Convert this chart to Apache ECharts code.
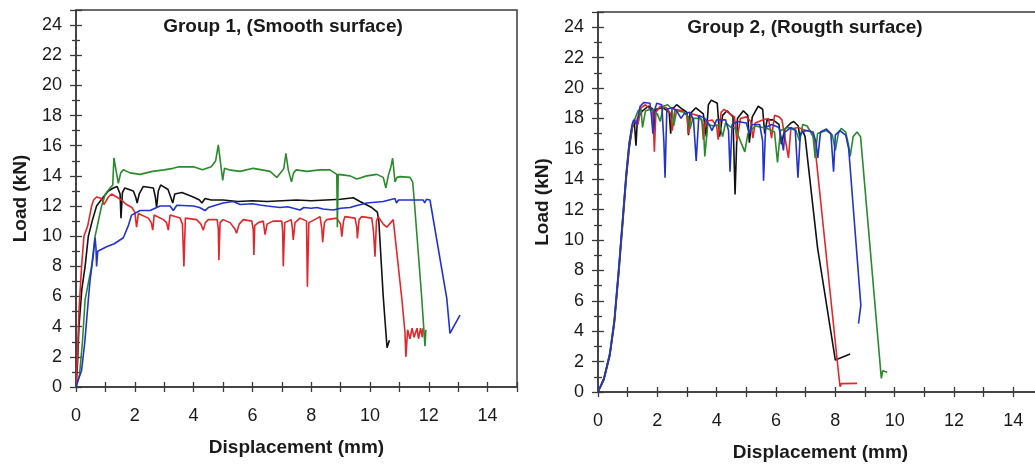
<!DOCTYPE html>
<html>
<head>
<meta charset="utf-8">
<script src="https://cdn.jsdelivr.net/npm/echarts@6/dist/echarts.min.js"></script>
<style>
html,body{margin:0;padding:0;background:#fff;}
#chart{width:1035px;height:465px;}
</style>
</head>
<body>
<div id="chart"></div>
<script>
// ---------- Data (Displacement mm, Load kN) ----------
const titles = ['Group 1, (Smooth surface)', 'Group 2, (Rougth surface)'];
const xName = 'Displacement (mm)';
const yName = 'Load (kN)';
const seriesNames = ['Specimen 1', 'Specimen 2', 'Specimen 3', 'Specimen 4'];
const seriesColors = ['#111111', '#e3262b', '#2b8a2e', '#2233cc'];

// Group 1 (smooth surface)
const g1Black = [[0,0],[0.05,1.5],[0.1,4],[0.2,6.5],[0.31,8],[0.42,10],[0.55,11],[0.7,12],[0.93,12.6],[1.1,13.0],[1.27,13.2],[1.4,13.3],[1.5,12.8],[1.53,11.2],[1.58,12.9],[1.66,13.2],[1.95,13.0],[2.03,12.6],[2.08,12.2],[2.15,12.8],[2.29,13.3],[2.63,13.2],[2.7,12.6],[2.74,11.9],[2.8,13.0],[2.88,13.4],[3.13,13.1],[3.22,12.6],[3.29,12.2],[3.36,12.8],[3.6,12.9],[3.99,12.6],[4.2,12.4],[4.28,12.2],[4.39,12.5],[4.6,12.4],[5.0,12.4],[5.5,12.3],[6.0,12.35],[6.5,12.3],[7.0,12.35],[7.5,12.4],[8.0,12.35],[8.5,12.4],[9.0,12.45],[9.43,12.55],[9.66,12.3],[10.06,11.9],[10.25,11.6],[10.3,11.0],[10.45,6.0],[10.58,2.6],[10.66,3.1]];
const g1Red = [[0,0],[0.05,2],[0.1,5],[0.19,8],[0.27,10],[0.4,10.7],[0.53,12],[0.6,12.4],[0.7,12.6],[0.87,12.5],[0.95,12.1],[0.99,12.0],[1.1,12.6],[1.21,12.8],[1.38,12.6],[1.55,12.4],[1.72,12.1],[1.9,11.9],[2.0,11.6],[2.06,10.6],[2.12,11.5],[2.18,11.5],[2.46,11.2],[2.56,10.9],[2.61,10.4],[2.66,11.4],[2.97,11.1],[3.08,10.9],[3.14,10.4],[3.2,11.4],[3.25,11.5],[3.54,11.2],[3.62,10.8],[3.67,8.0],[3.72,11.2],[4.1,11.1],[4.25,10.8],[4.33,10.4],[4.4,10.9],[4.5,11.1],[4.8,11.1],[4.84,10.5],[4.86,8.4],[4.9,10.9],[5.0,11.1],[5.24,10.9],[5.4,10.5],[5.46,10.2],[5.55,10.8],[5.69,11.1],[5.98,11.0],[6.03,10.4],[6.05,8.75],[6.08,10.7],[6.2,10.9],[6.37,11.0],[6.43,10.1],[6.5,10.8],[6.7,11.0],[7.0,11.0],[7.03,10.3],[7.05,8.0],[7.1,10.9],[7.32,11.1],[7.36,10.5],[7.39,9.75],[7.45,10.9],[7.62,11.2],[7.84,11.0],[7.87,6.65],[7.92,10.9],[8.02,11.0],[8.3,11.3],[8.36,10.5],[8.39,9.6],[8.45,10.9],[8.53,11.1],[8.87,11.2],[9.0,10.8],[9.04,9.97],[9.1,11.0],[9.15,11.3],[9.49,11.2],[9.55,10.6],[9.57,9.86],[9.63,11.1],[9.72,11.3],[10.06,11.2],[10.12,10.3],[10.17,8.64],[10.22,11.0],[10.28,11.3],[10.45,10.8],[10.57,10.6],[10.79,11.1],[11.08,5.9],[11.19,3.6],[11.22,2.0],[11.28,3.8],[11.36,3.2],[11.43,3.9],[11.5,3.3],[11.6,3.9],[11.65,3.2],[11.72,3.9],[11.78,3.3],[11.8,3.9]];
const g1Green = [[0,0],[0.12,0.8],[0.22,3],[0.31,5.8],[0.53,8],[0.65,10],[0.87,12],[1.0,12.8],[1.16,13.2],[1.25,13.4],[1.29,15.2],[1.35,14.5],[1.44,13.5],[1.52,14.2],[1.61,14.4],[1.84,14.2],[2.18,14.1],[2.6,14.3],[3.0,14.4],[3.3,14.5],[3.5,14.6],[4.0,14.6],[4.3,14.4],[4.6,14.6],[4.75,15.0],[4.84,16.05],[4.92,14.8],[4.99,13.7],[5.05,14.5],[5.2,14.4],[5.58,14.3],[6.03,14.5],[6.6,14.3],[6.83,13.9],[7.0,14.3],[7.07,14.5],[7.14,15.5],[7.22,14.4],[7.33,13.6],[7.4,14.2],[7.49,14.4],[7.85,14.3],[8.3,14.4],[8.64,14.4],[8.87,14.1],[8.89,10.6],[8.92,14.1],[9.32,14.0],[9.55,13.8],[9.89,14.0],[10.23,14.1],[10.45,13.9],[10.54,13.2],[10.62,14.0],[10.7,14.5],[10.77,15.17],[10.82,14.2],[10.85,13.6],[10.92,13.9],[11.02,13.95],[11.36,13.9],[11.45,13.6],[11.5,12.5],[11.76,5.9],[11.87,2.7],[11.9,3.8]];
const g1Blue = [[0,0],[0.08,0.5],[0.19,1.1],[0.3,3],[0.42,5.8],[0.48,7.1],[0.58,8.6],[0.65,9.9],[0.68,9.2],[0.7,8.0],[0.74,9.0],[1.04,9.3],[1.3,9.5],[1.61,9.9],[1.78,10.7],[1.89,11.4],[2.18,11.7],[2.52,11.7],[2.86,12.0],[3.2,12.0],[3.31,11.7],[3.43,12.05],[3.99,12.0],[4.2,11.9],[4.39,11.7],[4.5,11.9],[4.67,12.0],[5.0,12.2],[5.35,12.3],[5.58,12.1],[6.0,12.15],[6.26,12.07],[6.5,12.0],[6.94,11.9],[7.2,11.95],[7.62,11.74],[7.75,11.9],[8.0,11.85],[8.19,11.9],[8.4,11.8],[8.75,11.74],[9.0,11.85],[9.32,11.9],[9.49,12.0],[9.89,12.2],[10.45,12.3],[10.85,12.5],[10.9,12.2],[10.97,12.4],[11.13,12.4],[11.81,12.4],[11.86,12.2],[11.92,12.45],[12.04,12.4],[12.1,12.3],[12.61,5.9],[12.72,3.56],[13.06,4.77]];

// Group 2 (rough surface)
const g2Black = [[0,0],[0.2,0.8],[0.4,2.4],[0.55,4.5],[0.7,7.8],[0.85,11.5],[0.95,14],[1.05,16],[1.15,17.3],[1.22,17.9],[1.28,16.2],[1.33,18.0],[1.5,18.5],[1.7,18.8],[1.85,18.6],[1.9,17.2],[1.95,18.6],[2.2,18.7],[2.4,18.4],[2.45,17.0],[2.5,18.6],[2.65,18.9],[2.85,18.6],[3.0,18.4],[3.05,16.9],[3.1,18.3],[3.3,18.7],[3.55,18.3],[3.65,16.8],[3.72,18.9],[3.82,19.2],[4.02,19.0],[4.1,16.8],[4.2,18.2],[4.35,18.5],[4.55,18.1],[4.62,13.0],[4.7,18.0],[4.9,18.5],[5.05,18.2],[5.1,16.4],[5.2,18.1],[5.4,18.8],[5.55,18.6],[5.62,17.0],[5.7,17.9],[5.9,17.9],[6.1,17.6],[6.18,16.3],[6.3,17.3],[6.5,17.7],[6.6,17.8],[6.75,17.5],[6.8,16.8],[6.9,17.2],[6.98,16.8],[7.4,9.5],[8.0,2.1],[8.5,2.5]];
const g2Red = [[0,0],[0.2,0.9],[0.4,2.5],[0.55,4.6],[0.7,8],[0.85,11.7],[0.95,14.2],[1.05,16.2],[1.15,17.4],[1.25,17.9],[1.35,17.6],[1.45,18.7],[1.6,18.9],[1.75,18.6],[1.85,18.5],[1.9,15.8],[1.95,18.4],[2.1,18.8],[2.3,18.7],[2.45,18.3],[2.5,17.2],[2.6,18.6],[2.85,18.5],[3.0,18.2],[3.05,17.0],[3.15,18.3],[3.35,18.2],[3.5,17.9],[3.55,16.6],[3.62,17.8],[3.85,17.9],[4.0,17.5],[4.05,16.6],[4.15,18.4],[4.25,18.6],[4.45,18.3],[4.6,18.1],[4.68,16.5],[4.8,18.0],[5.0,18.1],[5.15,17.8],[5.22,16.7],[5.3,17.7],[5.55,17.9],[5.75,18.0],[5.85,16.7],[5.95,18.2],[6.1,18.1],[6.2,17.9],[6.42,15.4],[6.5,17.3],[6.75,17.4],[7.0,17.2],[7.15,17.2],[7.25,16.9],[7.3,16.4],[8.11,1.2],[8.16,0.35],[8.2,0.55],[8.73,0.57]];
const g2Green = [[0,0],[0.2,0.9],[0.4,2.6],[0.55,4.8],[0.7,8.2],[0.85,11.9],[0.95,14.4],[1.05,16.4],[1.15,17.5],[1.25,18.0],[1.35,18.5],[1.45,18.6],[1.5,17.4],[1.6,18.5],[1.8,18.6],[2.0,18.3],[2.1,17.8],[2.2,18.8],[2.35,18.9],[2.5,18.6],[2.55,17.5],[2.65,18.5],[2.9,18.4],[3.05,18.1],[3.1,17.3],[3.2,18.0],[3.45,18.0],[3.55,17.6],[3.6,15.5],[3.7,17.6],[3.9,17.5],[4.1,17.6],[4.2,16.8],[4.3,17.7],[4.5,17.4],[4.6,17.4],[4.7,17.0],[4.95,15.8],[5.05,17.0],[5.3,17.5],[5.55,17.4],[5.75,17.3],[5.95,17.1],[6.05,15.1],[6.15,17.2],[6.4,17.4],[6.65,17.3],[6.8,16.5],[6.9,17.6],[7.05,17.5],[7.25,16.8],[7.32,15.4],[7.4,17.0],[7.7,17.2],[7.9,16.9],[8.0,15.9],[8.1,17.0],[8.2,17.35],[8.35,17.1],[8.45,16.2],[8.5,15.5],[8.6,16.8],[8.73,17.1],[8.85,16.8],[9.55,0.9],[9.6,1.4],[9.75,1.3]];
const g2Blue = [[0,0],[0.2,0.9],[0.4,2.5],[0.55,4.7],[0.7,8.1],[0.85,11.8],[0.95,14.3],[1.05,16.3],[1.15,17.6],[1.2,17.9],[1.3,17.6],[1.42,18.8],[1.55,19.05],[1.75,19.0],[1.8,18.2],[1.85,17.0],[1.9,18.5],[1.98,19.0],[2.15,18.9],[2.22,16.5],[2.26,14.1],[2.32,18.6],[2.5,18.7],[2.65,18.5],[2.8,18.0],[2.9,18.3],[3.1,18.4],[3.22,17.9],[3.31,15.2],[3.4,18.2],[3.6,18.0],[3.75,17.6],[3.84,17.2],[4.0,17.9],[4.3,17.9],[4.4,17.2],[4.45,14.5],[4.52,17.6],[4.7,17.8],[5.0,17.7],[5.1,17.0],[5.2,17.6],[5.45,17.6],[5.55,16.5],[5.58,13.9],[5.65,17.4],[5.85,17.6],[6.1,17.4],[6.2,16.5],[6.25,15.9],[6.3,17.1],[6.5,17.4],[6.65,17.2],[6.74,14.1],[6.82,17.0],[7.0,17.2],[7.25,17.1],[7.35,16.4],[7.41,15.4],[7.5,17.1],[7.7,17.3],[7.85,17.0],[7.94,14.5],[8.0,16.9],[8.15,17.2],[8.35,16.9],[8.45,16.0],[8.86,5.7],[8.78,4.5]];

const groups = [[g1Black, g1Red, g1Green, g1Blue], [g2Black, g2Red, g2Green, g2Blue]];

// ---------- Axis settings ----------
const xMin = 0, xMax = 15, xStep = 1;
const yMin = 0, yMax = 25, yStep = 2;

// ---------- Build chart ----------
const AXIS = '#3a3a3a';
const TICK_FONT = 'Liberation Sans';
const BOLD_FONT = 'Liberation Sans';

const grids = [
  { left: 76, top: 10, width: 441, height: 377 },
  { left: 598, top: 12, width: 445, height: 380 }
];
const titleCenters = [[283, 17], [805, 18]];

const option = {
  animation: false,
  backgroundColor: '#ffffff',
  title: titles.map((t, i) => ({
    text: t, left: titleCenters[i][0], top: titleCenters[i][1], padding: 0,
    textAlign: 'center',
    textStyle: { fontFamily: BOLD_FONT, fontWeight: 'bold', fontSize: 19, color: '#1a1a1a' }
  })),
  grid: grids.map(g => Object.assign({
    show: true, borderColor: AXIS, borderWidth: 1.5, backgroundColor: 'transparent',
    containLabel: false, outerBoundsMode: 'none'
  }, g)),
  xAxis: [],
  yAxis: [],
  series: []
};

[0, 1].forEach(gi => {
  // main x axis
  option.xAxis.push({
    type: 'value', gridIndex: gi, position: 'bottom', min: xMin, max: xMax, interval: xStep,
    name: xName, nameLocation: 'middle', nameGap: 51,
    nameTextStyle: { fontFamily: BOLD_FONT, fontWeight: 'bold', fontSize: 19, color: '#1a1a1a' },
    axisLine: { show: true, onZero: false, lineStyle: { color: AXIS, width: 1.5 } },
    axisTick: { show: true, inside: false, length: 5, lineStyle: { color: AXIS, width: 1.3 } },
    axisLabel: { show: true, margin: 20, fontFamily: TICK_FONT, fontSize: 18, color: '#1a1a1a',
      formatter: v => (v % 2 === 0 && v <= 14) ? String(v) : '' },
    splitLine: { show: false }
  });
  // companion x axis: inner half of crossing ticks
  option.xAxis.push({
    type: 'value', gridIndex: gi, position: 'bottom', min: xMin, max: xMax, interval: xStep,
    axisLine: { show: false, onZero: false },
    axisTick: { show: true, inside: true, length: 5, lineStyle: { color: AXIS, width: 1.3 } },
    axisLabel: { show: false }, splitLine: { show: false }
  });
  // main y axis
  option.yAxis.push({
    type: 'value', gridIndex: gi, position: 'left', min: yMin, max: yMax, interval: yStep,
    name: yName, nameLocation: 'middle', nameGap: 46, nameRotate: 90,
    nameTextStyle: { fontFamily: BOLD_FONT, fontWeight: 'bold', fontSize: 19, color: '#1a1a1a' },
    axisLine: { show: true, onZero: false, lineStyle: { color: AXIS, width: 1.5 } },
    axisTick: { show: true, inside: false, length: 6, lineStyle: { color: AXIS, width: 1.3 } },
    minorTick: { show: true, splitNumber: 2, length: 4, lineStyle: { color: AXIS, width: 1.3 } },
    axisLabel: { show: true, margin: 14, fontFamily: TICK_FONT, fontSize: 18, color: '#1a1a1a',
      formatter: v => (v % 2 === 0 && v <= 24) ? String(v) : '' },
    splitLine: { show: false }, minorSplitLine: { show: false }
  });
  // companion y axis: inner half of crossing ticks
  option.yAxis.push({
    type: 'value', gridIndex: gi, position: 'left', min: yMin, max: yMax, interval: yStep,
    axisLine: { show: false, onZero: false },
    axisTick: { show: true, inside: true, length: 6, lineStyle: { color: AXIS, width: 1.3 } },
    minorTick: { show: true, splitNumber: 2, length: 4, lineStyle: { color: AXIS, width: 1.3 } },
    axisLabel: { show: false }, splitLine: { show: false }, minorSplitLine: { show: false }
  });

  groups[gi].forEach((data, si) => {
    option.series.push({
      name: seriesNames[si],
      type: 'line',
      xAxisIndex: gi * 2,
      yAxisIndex: gi * 2,
      data: data,
      showSymbol: false,
      symbol: 'none',
      smooth: false,
      lineStyle: { color: seriesColors[si], width: 1.6 },
      itemStyle: { color: seriesColors[si] },
      z: 3 + si
    });
  });
});

const chart = echarts.init(document.getElementById('chart'), null, { renderer: 'canvas' });
chart.setOption(option);
</script>
</body>
</html>
